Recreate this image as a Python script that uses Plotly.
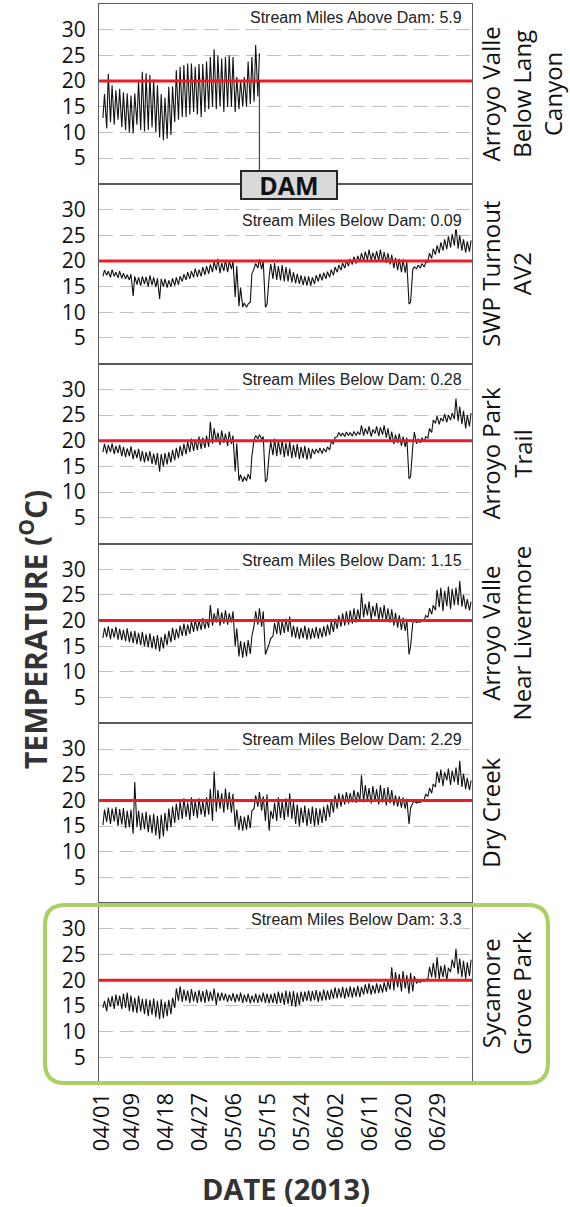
import plotly.graph_objects as go
from plotly.subplots import make_subplots
import pandas as pd

# ---------------- data (daily low / high water temperature, deg C) ----------------
start_date = "2013-04-01"

station_names = [
    "Arroyo Valle<br>Below Lang<br>Canyon",
    "SWP Turnout<br>AV2",
    "Arroyo Park<br>Trail",
    "Arroyo Valle<br>Near Livermore",
    "Dry Creek",
    "Sycamore<br>Grove Park",
]
stream_miles_text = [
    "Stream Miles Above Dam: 5.9",
    "Stream Miles Below Dam: 0.09",
    "Stream Miles Below Dam: 0.28",
    "Stream Miles Below Dam: 1.15",
    "Stream Miles Below Dam: 2.29",
    "Stream Miles Below Dam: 3.3",
]

lang_hi = [17.5, 21.4, 19.2, 18.2, 18.5, 17.8, 17.6, 17.2, 17.6, 20.0,
           21.8, 21.5, 21.2, 20.3, 19.2, 17.5, 16.8, 18.9, 19.0, 22.1,
           22.8, 23.1, 23.4, 23.4, 22.8, 23.3, 23.3, 23.8, 24.7, 26.2,
           25.0, 24.4, 24.7, 25.0, 24.7, 20.8, 20.2, 20.8, 23.8, 24.7,
           27.0, 25.4]
lang_lo = [12.8, 10.8, 12.0, 11.5, 12.5, 11.0, 10.5, 10.0, 9.8, 11.5,
           10.5, 10.2, 10.5, 11.0, 10.0, 9.0, 8.5, 8.8, 9.5, 12.0,
           12.5, 13.0, 13.0, 13.5, 14.0, 13.5, 13.0, 14.0, 14.5, 15.0,
           14.5, 15.0, 14.0, 15.0, 15.0, 14.0, 14.5, 15.0, 15.0, 15.5,
           16.0, 17.0]

swp_hi = [18.2, 18.0, 18.3, 17.8, 18.0, 17.6, 17.3, 17.4,
          17.0,
          16.8, 17.0, 16.9, 17.2, 16.8, 16.6,
          16.5,
          16.5, 16.2, 16.6, 16.8, 17.0,
          17.4, 17.8, 18.0, 18.5, 18.3, 18.8, 19.0, 19.3,
          19.8, 20.4, 19.6, 20.2, 19.9, 20.0,
          19.0,
          14.8, 11.8, 11.6,
          17.5,
          19.5, 20.3, 20.0,
          11.5,
          19.4, 19.6, 19.0, 19.2, 18.8, 18.5,
          17.8, 17.5, 17.2, 17.0, 17.0, 16.8,
          17.2, 17.5, 17.7, 17.9,
          18.3, 18.8, 19.2, 19.6, 20.0, 20.4, 20.8, 21.0,
          21.5, 21.8, 22.2, 21.6, 21.9, 22.2, 21.7, 21.5, 21.2,
          20.6, 20.4, 20.3, 19.8,
          12.0,
          18.8, 19.2, 19.5, 19.7,
          21.5, 22.4, 23.0, 23.6, 24.2, 24.8, 25.2,
          26.8,
          25.0, 24.2, 23.8, 24.0]
swp_lo = [17.0, 17.2, 16.8, 17.0, 16.7, 16.6, 16.5, 16.3,
          13.2,
          15.4, 15.2, 15.5, 15.0, 15.3, 14.9,
          12.6,
          15.0, 14.8, 15.0, 15.2, 15.4,
          16.0, 16.3, 16.5, 16.8, 16.9, 17.0, 17.3, 17.5,
          17.8, 18.2, 17.6, 18.0, 17.8, 18.4,
          13.0,
          11.2, 11.0, 11.0,
          12.0,
          18.5, 18.6, 18.4,
          11.0,
          17.0, 16.5, 16.3, 16.2, 16.0, 16.0,
          15.8, 15.6, 15.5, 15.3, 15.2, 15.2,
          15.5, 16.0, 16.2, 16.5,
          16.8, 17.2, 17.8, 18.2, 18.6, 19.0, 19.3, 19.5,
          19.8, 20.0, 20.2, 20.0, 20.2, 20.0, 19.8, 19.6, 19.3,
          18.6, 18.2, 17.8, 17.7,
          11.6,
          18.4, 18.5, 18.6, 18.8,
          19.8, 20.5, 21.2, 21.5, 22.0, 22.3, 22.6,
          23.0,
          22.4, 22.0, 21.6, 21.8]

park_hi = [19.4, 19.2, 19.5, 19.0, 19.2,
           18.8, 18.5, 18.9, 18.2, 18.4, 18.0, 17.8, 18.0, 17.5, 17.6,
           17.4,
           17.6, 17.8, 18.2, 18.6, 19.0,
           19.4, 19.8, 20.4, 20.2, 20.8, 20.6, 21.0,
           23.7,
           22.4, 21.6, 22.0, 21.4, 21.8, 21.0,
           19.5,
           13.4, 13.0, 13.5,
           17.0,
           21.0, 21.2, 20.8,
           12.5,
           19.8, 20.4, 20.0, 20.2, 19.6, 19.8, 19.2, 19.4, 18.8, 19.0, 18.6, 18.4,
           18.4, 18.6, 18.5, 18.8,
           19.8, 20.6,
           21.6, 21.5, 21.7, 21.6, 21.8, 21.7,
           23.0,
           22.4, 22.8, 22.2, 22.8, 22.6, 23.0, 22.4,
           21.8, 21.2, 21.4, 20.8, 20.6,
           13.0,
           21.7,
           20.4, 20.6, 20.8,
           22.4, 24.0,
           24.8, 24.4, 25.2, 25.0, 25.4,
           28.2,
           26.6, 25.8, 25.0, 25.4]
park_lo = [17.8, 17.5, 17.8, 17.4, 17.6,
           17.0, 16.8, 17.0, 16.4, 16.6, 16.0, 15.8, 16.0, 15.5, 15.3,
           14.0,
           15.0, 15.4, 15.8, 16.2, 16.6,
           17.0, 17.4, 17.8, 18.0, 18.2, 18.4, 18.6,
           18.8,
           19.4, 19.8, 19.2, 19.6, 19.0, 19.4,
           14.0,
           12.2, 12.0, 12.2,
           12.5,
           20.2, 20.4, 20.3,
           12.0,
           17.5, 17.2, 17.0, 17.3, 16.8, 17.0, 16.6, 16.8, 16.4, 16.6, 16.3, 16.5,
           17.4, 17.6, 17.5, 17.8,
           18.2, 19.4,
           20.8, 20.9, 20.8, 21.0, 20.9, 21.0,
           21.2,
           21.0, 21.3, 20.8, 21.4, 20.9, 21.2, 20.6,
           19.8, 19.4, 19.6, 19.0, 18.8,
           12.6,
           19.0,
           19.4, 19.6, 19.8,
           20.5, 21.6,
           23.4, 23.2, 23.8, 23.6, 24.0,
           24.2,
           23.8, 23.2, 22.4, 22.8]

liv_hi = [18.6, 18.9, 18.5, 18.8, 18.4,
          18.2, 18.5, 17.9, 18.0, 17.6, 17.8, 17.3, 17.5, 17.0, 17.2, 16.8,
          17.4, 18.0, 18.6, 18.4, 19.0, 19.4, 19.2, 19.8, 20.2, 20.0, 20.5, 20.3,
          23.0,
          21.4, 22.4, 21.6, 22.0, 21.4, 21.8,
          18.5, 16.0, 15.8, 16.2, 17.0,
          21.8, 22.4, 21.8,
          14.5,
          16.5,
          19.5, 20.2, 19.8, 20.4, 20.8,
          19.0, 18.8, 18.6, 19.0, 18.6, 18.5, 18.8, 18.6, 18.9, 19.2,
          19.8, 20.4, 21.0, 21.4, 21.8, 22.0, 22.4, 22.2,
          25.3,
          23.2, 23.7, 22.8, 23.4, 22.6, 23.0, 22.4, 22.2,
          21.5, 21.0, 20.6, 20.2,
          15.0,
          19.9, 19.8, 19.9,
          21.0, 22.4, 23.0,
          26.0, 26.4, 25.8, 26.6, 26.2, 26.4,
          27.7,
          25.0, 24.2, 23.7]
liv_lo = [16.6, 16.8, 16.4, 16.7, 16.3,
          16.2, 16.0, 15.8, 15.6, 15.4, 15.2, 15.0, 14.8, 14.6, 14.4, 14.0,
          14.6, 15.2, 15.8, 16.2, 16.6, 17.0, 17.0, 17.4, 17.8, 18.0, 18.2, 18.4,
          18.6,
          19.0, 19.6, 19.0, 19.4, 19.2, 19.6,
          15.0, 13.0, 12.8, 13.0, 13.5,
          19.0, 19.2, 18.8,
          13.4,
          15.5,
          17.0, 17.4, 17.2, 17.6, 17.8,
          16.8, 16.6, 16.4, 16.6, 16.3, 16.4, 16.6, 16.5, 16.7, 16.9,
          17.2, 17.8, 18.4, 18.8, 19.0, 19.2, 19.4, 19.6,
          20.0,
          20.6, 21.0, 20.2, 20.8, 20.0, 20.4, 19.8, 19.6,
          19.0, 18.6, 18.2, 18.0,
          13.4,
          19.6, 19.6, 19.7,
          20.0, 20.6, 21.2,
          22.0, 22.6, 21.8, 22.8, 22.2, 23.0,
          23.0,
          22.7, 22.2, 22.0]

dry_hi = [18.2, 18.6, 18.4, 18.7, 18.3, 18.5, 18.0, 18.2,
          23.6,
          18.0, 17.6, 17.8, 17.2, 17.4, 17.0, 17.2, 17.6,
          18.4, 18.8, 19.4, 19.8,
          20.4, 19.6, 20.6, 20.0, 20.4, 19.8, 20.6,
          22.2, 25.6,
          22.0, 21.4, 22.3, 21.6, 21.3,
          18.2, 17.0, 16.8, 17.2, 18.0,
          21.0, 21.6, 20.8, 21.2,
          18.0,
          19.6, 20.6, 19.8, 20.4, 21.4, 19.8,
          19.2, 18.6, 19.0, 18.4, 18.8, 18.5, 18.4, 18.8, 19.2,
          20.2, 21.0, 21.4, 21.2, 21.6, 21.4, 22.0, 21.6,
          24.9,
          23.0, 22.4, 22.8, 22.2, 23.0, 22.4, 22.6, 22.0,
          21.0, 20.8, 20.6, 20.3,
          18.5,
          19.8, 19.7, 19.9,
          21.2, 22.4, 23.2,
          25.6, 26.0, 25.5, 26.2, 25.8, 26.4,
          27.7,
          25.2, 24.4, 23.9]
dry_lo = [15.2, 15.8, 15.4, 15.9, 15.0, 15.3, 14.6, 14.8,
          13.5,
          14.8, 14.2, 14.4, 13.8, 13.6, 13.2, 12.5, 13.0,
          14.0, 14.8, 15.6, 16.2,
          16.4, 16.8, 16.2, 17.0, 16.6, 17.2, 16.8,
          17.2, 16.0,
          17.8, 18.4, 17.6, 18.2, 17.6,
          15.0, 14.2, 14.1, 14.3, 14.6,
          18.4, 18.8, 18.0, 16.0,
          14.1,
          16.4, 16.0, 16.6, 16.2, 16.8, 16.4,
          15.4, 15.0, 15.6, 15.0, 15.4, 15.0, 15.2, 15.6, 16.0,
          16.8, 17.6, 18.4, 18.8, 19.2, 19.4, 19.6, 19.5,
          20.0,
          19.6, 20.0, 19.4, 19.8, 19.2, 19.6, 19.0, 19.4,
          19.0, 18.8, 18.6, 18.4,
          15.4,
          19.5, 19.5, 19.6,
          20.2, 20.8, 21.4,
          22.6, 23.4, 22.8, 23.9, 23.0, 23.6,
          23.0,
          22.6, 22.2, 22.0]

syc_hi = [16.0, 16.6, 16.9, 17.2, 17.0, 17.4, 17.6,
          17.0, 16.6, 17.0, 16.4,
          16.4, 16.2, 16.5, 16.0, 16.3, 15.8, 16.2, 16.6,
          18.4,
          18.8, 18.2, 18.0, 18.3, 17.8, 18.1, 17.9, 18.2, 17.8, 18.4,
          17.6,
          17.6, 17.4, 17.2, 17.5, 17.3, 17.6, 17.2, 17.4, 17.0, 17.4, 17.2, 17.6, 17.4, 17.3,
          17.5, 17.8, 17.6, 18.0, 17.8, 17.9, 17.6, 17.8,
          17.8, 18.0, 17.9, 18.1, 17.8, 18.2, 18.0, 18.2,
          18.6, 18.4, 18.7, 18.5, 18.8, 18.6, 18.9, 18.7,
          19.2, 19.4, 19.0, 19.4, 19.2, 19.6, 19.8,
          22.5, 21.6, 21.2, 21.8, 21.0, 21.4, 20.8,
          19.8, 20.0, 20.2,
          22.6, 23.4, 24.5, 22.8, 23.0, 22.4,
          24.0, 26.1,
          24.2, 23.8, 23.5, 24.0]
syc_lo = [14.6, 14.0, 14.8, 14.4, 15.0, 14.4, 14.6,
          14.0, 13.8, 13.6, 13.9,
          13.4, 13.0, 13.3, 12.8, 12.4, 12.6, 13.0, 13.4,
          14.6,
          16.0, 15.8, 16.0, 15.6, 15.9, 15.6, 15.8, 15.6, 15.9, 16.0,
          15.2,
          16.0, 16.1, 15.8, 16.0, 15.7, 15.9, 15.6, 15.8, 15.5, 15.7, 15.6, 15.8, 15.6, 15.5,
          15.6, 15.4, 15.6, 15.2, 15.4, 15.0, 14.8, 15.2,
          15.8, 16.0, 15.9, 16.1, 15.8, 16.0, 16.1, 16.2,
          16.4, 16.5, 16.6, 16.4, 16.7, 16.6, 16.8, 16.7,
          17.2, 17.4, 17.2, 17.4, 17.5, 17.6, 17.8,
          18.2, 18.0, 18.6, 17.8, 18.4, 17.4, 17.8,
          19.4, 19.6, 19.8,
          20.2, 20.6, 20.4, 20.2, 20.6, 20.0,
          21.6, 22.4,
          21.2, 20.6, 20.3, 20.8]

station_lo = [lang_lo, swp_lo, park_lo, liv_lo, dry_lo, syc_lo]
station_hi = [lang_hi, swp_hi, park_hi, liv_hi, dry_hi, syc_hi]

threshold = 20
y_ticks = [5, 10, 15, 20, 25, 30]
x_tick_dates = ["2013-04-01", "2013-04-09", "2013-04-18", "2013-04-27", "2013-05-06",
                "2013-05-15", "2013-05-24", "2013-06-02", "2013-06-11", "2013-06-20",
                "2013-06-29"]

# ---------------- figure ----------------
W, H = 570, 1207
ML, MR, MT, MB = 99, 98, 4, 124
PW, PH = W - ML - MR, H - MT - MB


def px(x):
    return (x - ML) / PW


def py(y):
    return (H - MB - y) / PH


fig = make_subplots(rows=6, cols=1, shared_xaxes=True, vertical_spacing=0)

t0 = pd.Timestamp(start_date)
last_x_top = None
for k in range(6):
    lo, hi = station_lo[k], station_hi[k]
    n = min(len(lo), len(hi))
    xs, ys = [], []
    for i in range(n):
        xs.append(t0 + pd.Timedelta(days=i, hours=6))
        ys.append(lo[i])
        xs.append(t0 + pd.Timedelta(days=i, hours=16))
        ys.append(hi[i])
    if k == 0:
        last_x_top = xs[-1]
    fig.add_trace(go.Scatter(x=xs, y=ys, mode="lines",
                             line=dict(color="#111111", width=1.1),
                             showlegend=False, hoverinfo="skip"),
                  row=k + 1, col=1)
    fig.add_hline(y=threshold, line=dict(color="#ed1c24", width=3), row=k + 1, col=1)

fig.update_yaxes(range=[0, 35], tickvals=y_ticks, showgrid=True,
                 gridcolor="#c0c0c0", griddash="14px,7px", gridwidth=1,
                 showline=True, mirror=True, linecolor="#5a5a5a", linewidth=1,
                 zeroline=False, ticks="", automargin=False, ticklabelstandoff=8,
                 tickfont=dict(family="Open Sans", size=21, color="#111"))
fig.update_xaxes(range=["2013-03-31 05:00", "2013-07-07 22:00"],
                 tickvals=x_tick_dates, tickformat="%m/%d", tickangle=-90,
                 showgrid=False, showline=True, mirror=True, linecolor="#5a5a5a",
                 linewidth=1, zeroline=False, ticks="", automargin=False,
                 tickfont=dict(family="Open Sans", size=22, color="#111"))

annotations = []
label_y = [18, 220, 380, 560, 740, 920]
panel_h = PH / 6
for k in range(6):
    top = MT + k * panel_h
    annotations.append(dict(
        text=stream_miles_text[k], xref="paper", yref="paper",
        x=px(463), y=py(label_y[k]), xanchor="right", yanchor="middle",
        showarrow=False, bgcolor="white", borderpad=0,
        font=dict(family="Liberation Sans", size=16, color="#222")))
    annotations.append(dict(
        text=station_names[k], xref="paper", yref="paper",
        x=px(472), y=py(top + panel_h / 2), xanchor="left", yanchor="middle",
        textangle=-90, showarrow=False, align="center",
        font=dict(family="Open Sans", size=24, color="#111")))

annotations.append(dict(
    text="<b>DAM</b>", xref="paper", yref="paper", x=px(289), y=py(185),
    xanchor="center", yanchor="middle", showarrow=False,
    bgcolor="#d9d9d9", bordercolor="#262626", borderwidth=2, borderpad=2,
    width=90, height=22, font=dict(family="Open Sans", size=25, color="#111")))

annotations.append(dict(
    text="<b>TEMPERATURE (<sup>O</sup>C)</b>", xref="paper", yref="paper",
    x=px(34), y=py(630), xanchor="center", yanchor="middle", textangle=-90,
    showarrow=False, font=dict(family="Open Sans", size=30, color="#333")))
annotations.append(dict(
    text="<b>DATE (2013)</b>", xref="paper", yref="paper",
    x=px(286), y=py(1188), xanchor="center", yanchor="middle",
    showarrow=False, font=dict(family="Open Sans", size=29, color="#333")))

shapes = list(fig.layout.shapes)
# vertical line from the end of the upstream record down to the DAM box
shapes.append(dict(type="line", xref="x", yref="paper",
                   x0=last_x_top, x1=last_x_top,
                   y0=py(80), y1=py(171),
                   line=dict(color="#444", width=1.2)))
# green rounded box around the bottom panel
x0, x1, y0, y1 = px(45), px(548), py(1083), py(905)
rx, ry = 20 / PW, 20 / PH
path = (f"M {x0+rx},{y1} L {x1-rx},{y1} Q {x1},{y1} {x1},{y1-ry} "
        f"L {x1},{y0+ry} Q {x1},{y0} {x1-rx},{y0} L {x0+rx},{y0} "
        f"Q {x0},{y0} {x0},{y0+ry} L {x0},{y1-ry} Q {x0},{y1} {x0+rx},{y1} Z")
shapes.append(dict(type="path", xref="paper", yref="paper", path=path,
                   line=dict(color="#a9d062", width=4)))

fig.update_layout(width=W, height=H, autosize=False,
                  margin=dict(l=ML, r=MR, t=MT, b=MB),
                  paper_bgcolor="white", plot_bgcolor="white",
                  annotations=annotations, shapes=shapes, showlegend=False)

fig.write_html("out.html", config={"displayModeBar": False},
               post_script="document.body.style.margin='0';")
